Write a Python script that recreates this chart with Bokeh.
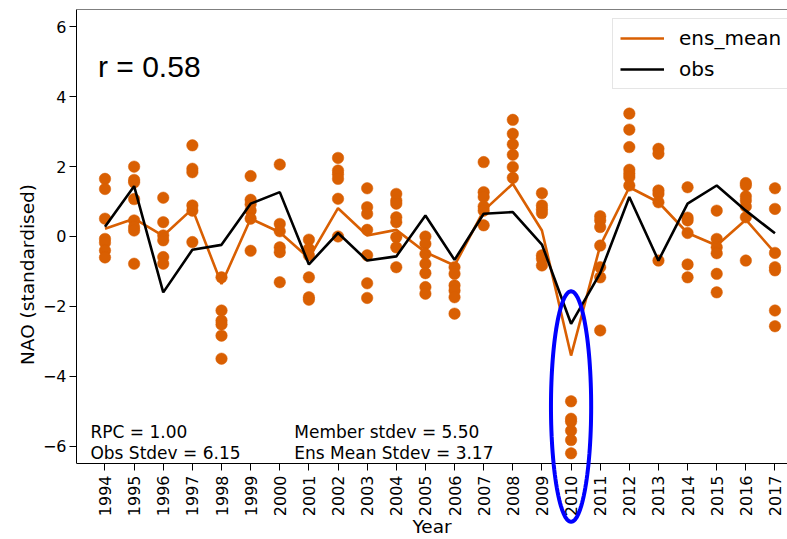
import math
import numpy as np
from bokeh.plotting import figure
from bokeh.models import (Range1d, FixedTicker, Legend, LegendItem, Label,
                          PolyAnnotation, LinearAxis)
from bokeh.embed import file_html
from bokeh.resources import INLINE

# ---------------- data ----------------
years = list(range(1994, 2018))

members = [
    [1.65, 1.36, 0.51, -0.07, -0.18, -0.40, -0.60],          # 1994
    [2.00, 1.62, 1.55, 1.07, 0.46, 0.27, 0.17, -0.78],       # 1995
    [1.11, 0.41, 0.03, -0.11, -0.59, -0.78],                 # 1996
    [2.61, 1.94, 1.84, 0.89, 0.74, -0.16],                   # 1997
    [-1.17, -2.12, -2.41, -2.52, -2.84, -3.50],              # 1998
    [1.73, 1.05, 0.92, 0.74, 0.51, -0.41],                   # 1999
    [2.06, 0.36, 0.15, -0.31, -0.45, -1.31],                 # 2000
    [-0.09, -0.35, -0.54, -1.17, -1.74, -1.81],              # 2001
    [2.25, 1.89, 1.78, 1.65, 1.08, 0.00],                    # 2002
    [1.38, 0.84, 0.65, 0.19, -0.54, -1.34, -1.76],           # 2003
    [1.22, 1.03, 0.94, 0.55, 0.41, -0.02, -0.31, -0.88],     # 2004
    [0.00, -0.21, -0.50, -0.78, -1.05, -1.45, -1.64],        # 2005
    [-0.88, -1.07, -1.40, -1.55, -1.74, -2.21],              # 2006
    [2.13, 1.27, 1.13, 0.86, 0.74, 0.32],                    # 2007
    [3.34, 2.94, 2.64, 2.34, 1.99, 1.68],                    # 2008
    [1.24, 0.89, 0.78, 0.67, -0.54, -0.64, -0.83],           # 2009
    [-4.72, -5.22, -5.30, -5.56, -5.83, -6.21],              # 2010
    [0.58, 0.46, 0.27, -0.26, -0.88, -1.17, -2.69],          # 2011
    [3.52, 3.06, 2.56, 1.91, 1.80, 1.70, 1.46],              # 2012
    [2.51, 2.37, 1.32, 1.22, 0.98, -0.69],                   # 2013
    [1.41, 0.54, 0.46, 0.10, -0.80, -1.17],                  # 2014
    [0.74, -0.07, -0.31, -0.48, -1.07, -1.60],               # 2015
    [1.53, 1.46, 1.15, 1.03, 0.86, 0.55, -0.69],             # 2016
    [1.38, 0.79, -0.47, -0.88, -0.97, -2.12, -2.57],         # 2017
]

ens_mean = [0.22, 0.51, 0.02, 0.79, -1.36, 0.51, 0.12, -0.62, 0.81, 0.03,
            0.19, -0.45, -0.83, 0.74, 1.51, 0.17, -3.41, -0.26, 1.41, 0.98,
            0.10, -0.26, 0.48, -0.47]

obs = [0.28, 1.44, -1.60, -0.38, -0.24, 0.94, 1.27, -0.80, 0.10, -0.69,
       -0.57, 0.60, -0.67, 0.65, 0.70, -0.23, -2.50, -1.05, 1.13, -0.69,
       0.94, 1.46, 0.74, 0.09]

y_ticks = [-6, -4, -2, 0, 2, 4, 6]

r_text = "r = 0.58"
rpc_text = "RPC = 1.00"
obs_sd_text = "Obs Stdev = 6.15"
mem_sd_text = "Member stdev = 5.50"
ens_sd_text = "Ens Mean Stdev = 3.17"

# highlighted year (ellipse)
hl_year = 2010
hl_center = -4.87
hl_halfwidth = 0.69
hl_halfheight = 3.30

# ---------------- figure ----------------
ORANGE = "#d95f02"
FONT = "DejaVu Sans"
Y_LO, Y_HI = -6.5, 6.5          # axes box (spines)
X_LO, X_HI = 1993.022, 2017.43  # visible x span

p = figure(width=787, height=539, output_backend="svg", toolbar_location=None,
           x_range=Range1d(X_LO, X_HI), y_range=Range1d(-8.677, Y_HI),
           min_border_left=76, min_border_right=0, min_border_top=9,
           min_border_bottom=0)
p.background_fill_color = "white"
p.border_fill_color = "white"
p.outline_line_color = None
p.xgrid.visible = False
p.ygrid.visible = False

xax = p.below[0]
yax = p.left[0]

mx = [y for y, ms in zip(years, members) for _ in ms]
my = [v for ms in members for v in ms]
p.scatter(mx, my, size=11.5, marker="circle", fill_color=ORANGE,
          line_color=ORANGE, line_width=0.5)

r_ens = p.line(years, ens_mean, line_color=ORANGE, line_width=2.6)
r_obs = p.line(years, obs, line_color="black", line_width=2.6)

# axes
for ax in (xax, yax):
    ax.axis_line_color = "black"
    ax.major_tick_line_color = "black"
    ax.major_tick_in = 0
    ax.major_tick_out = 7
    ax.minor_tick_line_color = None
    ax.major_label_text_font = FONT
    ax.major_label_text_font_size = "16px"
    ax.major_label_text_color = "black"
    ax.axis_label_text_font = FONT
    ax.axis_label_text_font_size = "18.5px"
    ax.axis_label_text_font_style = "normal"
    ax.axis_label_text_color = "black"

xax.fixed_location = Y_LO
xax.bounds = (1992.85, 2018.15)
xax.ticker = FixedTicker(ticks=years)
xax.major_label_orientation = math.pi / 2
xax.major_label_standoff = 5
xax.axis_label = "Year"
xax.axis_label_standoff = -3

yax.bounds = (Y_LO, Y_HI)
yax.ticker = FixedTicker(ticks=y_ticks)
yax.major_label_overrides = {t: (("\u2212" + str(abs(t))) if t < 0 else str(t)) for t in y_ticks}
yax.major_label_standoff = 3
yax.axis_label = "NAO (standardised)"
yax.axis_label_standoff = 2

# top spine
top = LinearAxis(fixed_location=Y_HI, ticker=FixedTicker(ticks=[]),
                 axis_line_color="black", major_label_text_font_size="0px",
                 major_tick_line_color=None, minor_tick_line_color=None)
p.add_layout(top, "above")

# legend
legend = Legend(items=[LegendItem(label="ens_mean", renderers=[r_ens]),
                       LegendItem(label="obs", renderers=[r_obs])],
                location=(536, 450))
legend.label_text_font = FONT
legend.label_text_font_size = "20px"
legend.label_text_color = "black"
legend.label_height = 24
legend.glyph_height = 24
legend.glyph_width = 44
legend.label_standoff = 15
legend.spacing = 7
legend.padding = 7
legend.margin = 0
legend.border_line_color = "#cccccc"
legend.border_line_width = 1
legend.background_fill_alpha = 0.8
p.add_layout(legend)

# texts
p.add_layout(Label(x=1993.76, y=4.88, text=r_text, text_font="Liberation Sans",
                   text_font_size="30px", text_color="black",
                   text_baseline="alphabetic"))
for x, y, t in [(1993.50, -5.59, rpc_text), (1993.50, -6.20, obs_sd_text),
                (2000.50, -5.59, mem_sd_text), (2000.50, -6.20, ens_sd_text)]:
    p.add_layout(Label(x=x, y=y, text=t, text_font=FONT, text_font_size="17px",
                       text_color="black", text_baseline="alphabetic"))

# highlight ellipse
th = np.linspace(0, 2 * np.pi, 121)
ex = hl_year + hl_halfwidth * np.cos(th)
ey = hl_center + hl_halfheight * np.sin(th)
p.add_layout(PolyAnnotation(xs=list(ex), ys=list(ey), fill_alpha=0,
                            line_color="#0000ff", line_alpha=1.0, line_width=4))

open("out.html", "w").write(file_html(p, INLINE))
